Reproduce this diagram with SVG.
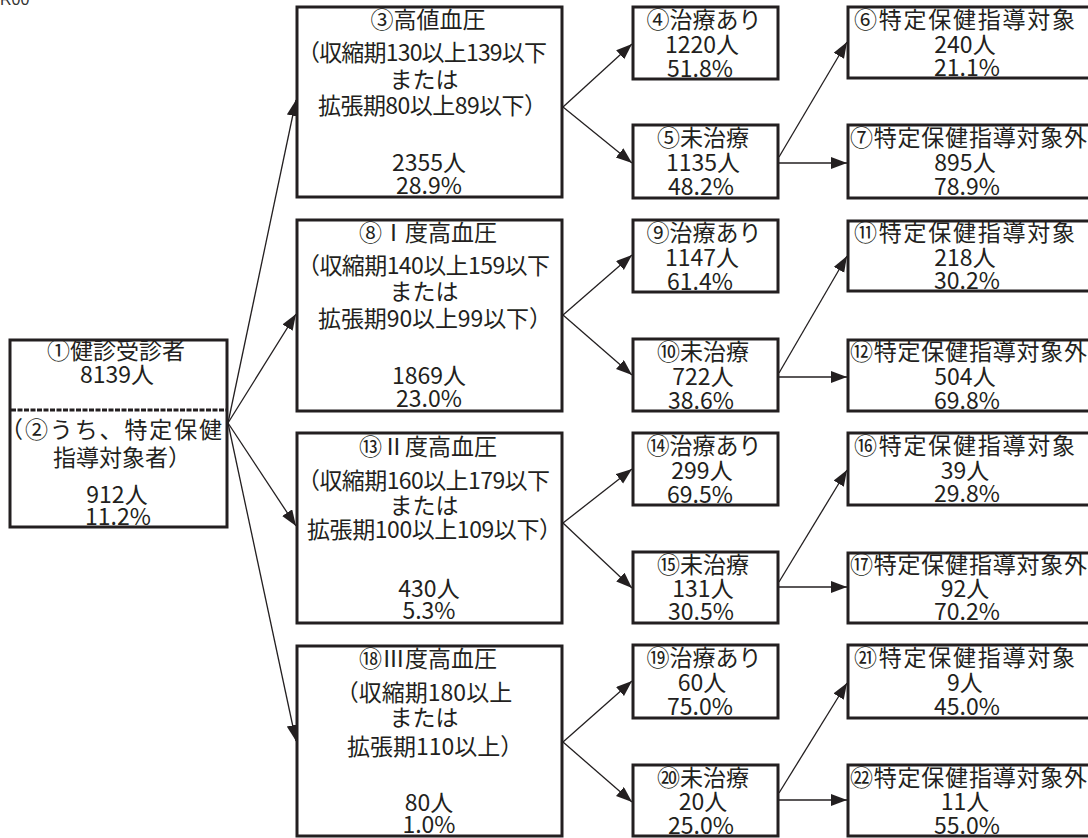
<svg xmlns="http://www.w3.org/2000/svg" width="1088" height="838" viewBox="0 0 1088 838">
<style>
.box{fill:#fff;stroke:#231f20;stroke-width:3}
.t{font-family:"Noto Sans CJK JP","Noto Sans CJK SC",sans-serif;font-size:23px;fill:#231f20;text-anchor:middle}
.s{text-anchor:start}
.c line{stroke:#231f20;stroke-width:1.3;marker-end:url(#arr)}
.dash{stroke:#231f20;stroke-width:3;stroke-dasharray:5 1.5}
</style>
<defs>
<marker id="arr" markerUnits="userSpaceOnUse" markerWidth="17" markerHeight="13" refX="16" refY="6" orient="auto">
<path d="M0,0 L16,6 L0,12 z" fill="#231f20"/>
</marker>
</defs>
<rect width="1088" height="838" fill="#fff"/>
<text x="0" y="5" style="font-family:'Liberation Sans',sans-serif;font-size:16px;fill:#333">R00</text>

<g class="c" id="connectors">
<line x1="228" y1="423" x2="296" y2="100"/>
<line x1="228" y1="423" x2="296" y2="314"/>
<line x1="228" y1="423" x2="296" y2="526"/>
<line x1="228" y1="423" x2="296" y2="741"/>

<line x1="563" y1="107" x2="632" y2="44"/>
<line x1="563" y1="107" x2="632" y2="163"/>
<line x1="563" y1="315" x2="632" y2="255"/>
<line x1="563" y1="315" x2="632" y2="375"/>
<line x1="563" y1="523" x2="632" y2="469"/>
<line x1="563" y1="523" x2="632" y2="588"/>
<line x1="563" y1="742" x2="632" y2="681"/>
<line x1="563" y1="742" x2="632" y2="802"/>

<line x1="779" y1="157" x2="847" y2="42"/>
<line x1="776" y1="163" x2="847" y2="163"/>
<line x1="779" y1="373" x2="847" y2="256"/>
<line x1="776" y1="377" x2="847" y2="377"/>
<line x1="779" y1="582" x2="847" y2="470"/>
<line x1="776" y1="587" x2="847" y2="587"/>
<line x1="779" y1="793" x2="847" y2="683"/>
<line x1="776" y1="800" x2="847" y2="800"/>
</g>

<g id="n1">
<rect class="box" x="10" y="340" width="217" height="187"/>
<line class="dash" x1="11" y1="410" x2="226" y2="410"/>
<text class="t" x="116" y="359">①健診受診者</text>
<text class="t" x="117" y="383">8139人</text>
<text class="t s" x="0" y="438" textLength="222" lengthAdjust="spacing">（②うち、特定保健</text>
<text class="t s" x="53" y="466">指導対象者）</text>
<text class="t" x="117" y="503">912人</text>
<text class="t" x="118" y="525">11.2%</text>
</g>

<!-- group 1 -->
<g id="n3">
<rect class="box" x="297" y="7" width="265" height="190"/>
<text class="t" x="428" y="28">③高値血圧</text>
<text class="t s" x="297" y="61" textLength="250" lengthAdjust="spacing">（収縮期130以上139以下</text>
<text class="t" x="424" y="88">または</text>
<text class="t s" x="318" y="114" textLength="229" lengthAdjust="spacing">拡張期80以上89以下）</text>
<text class="t" x="429" y="171">2355人</text>
<text class="t" x="429" y="194">28.9%</text>
</g>
<g id="n4">
<rect class="box" x="633" y="7" width="145" height="72"/>
<text class="t" x="704" y="28">④治療あり</text>
<text class="t" x="702" y="53">1220人</text>
<text class="t" x="700" y="77">51.8%</text>
</g>
<g id="n5">
<rect class="box" x="633" y="125" width="145" height="73"/>
<text class="t" x="703" y="146">⑤未治療</text>
<text class="t" x="703" y="171">1135人</text>
<text class="t" x="701" y="195">48.2%</text>
</g>
<g id="n6">
<rect class="box" x="848" y="7" width="252" height="71"/>
<text class="t s" x="854" y="28" textLength="221" lengthAdjust="spacing">⑥特定保健指導対象</text>
<text class="t" x="965" y="53">240人</text>
<text class="t" x="967" y="76">21.1%</text>
</g>
<g id="n7">
<rect class="box" x="848" y="125" width="252" height="73"/>
<text class="t s" x="850" y="146" textLength="237" lengthAdjust="spacing">⑦特定保健指導対象外</text>
<text class="t" x="965" y="171">895人</text>
<text class="t" x="967" y="195">78.9%</text>
</g>

<!-- group 2 -->
<g id="n8">
<rect class="box" x="297" y="220" width="265" height="191"/>
<text class="t" x="428" y="241">⑧Ⅰ度高血圧</text>
<text class="t s" x="297" y="274" textLength="253" lengthAdjust="spacing">（収縮期140以上159以下</text>
<text class="t" x="424" y="300">または</text>
<text class="t s" x="318" y="327" textLength="234" lengthAdjust="spacing">拡張期90以上99以下）</text>
<text class="t" x="429" y="384">1869人</text>
<text class="t" x="429" y="407">23.0%</text>
</g>
<g id="n9">
<rect class="box" x="633" y="220" width="145" height="72"/>
<text class="t" x="704" y="241">⑨治療あり</text>
<text class="t" x="702" y="266">1147人</text>
<text class="t" x="700" y="290">61.4%</text>
</g>
<g id="n10">
<rect class="box" x="633" y="339" width="145" height="72"/>
<text class="t" x="703" y="360">⑩未治療</text>
<text class="t" x="703" y="385">722人</text>
<text class="t" x="701" y="409">38.6%</text>
</g>
<g id="n11">
<rect class="box" x="848" y="221" width="252" height="70"/>
<text class="t s" x="854" y="241" textLength="221" lengthAdjust="spacing">⑪特定保健指導対象</text>
<text class="t" x="965" y="266">218人</text>
<text class="t" x="967" y="289">30.2%</text>
</g>
<g id="n12">
<rect class="box" x="848" y="340" width="252" height="71"/>
<text class="t s" x="850" y="360" textLength="237" lengthAdjust="spacing">⑫特定保健指導対象外</text>
<text class="t" x="965" y="385">504人</text>
<text class="t" x="967" y="409">69.8%</text>
</g>

<!-- group 3 -->
<g id="n13">
<rect class="box" x="297" y="433" width="265" height="190"/>
<text class="t" x="428" y="455">⑬Ⅱ度高血圧</text>
<text class="t s" x="297" y="489" textLength="253" lengthAdjust="spacing">（収縮期160以上179以下</text>
<text class="t" x="424" y="514">または</text>
<text class="t s" x="307" y="538" textLength="255" lengthAdjust="spacing">拡張期100以上109以下）</text>
<text class="t" x="429" y="597">430人</text>
<text class="t" x="429" y="619">5.3%</text>
</g>
<g id="n14">
<rect class="box" x="633" y="433" width="145" height="72"/>
<text class="t" x="704" y="454">⑭治療あり</text>
<text class="t" x="702" y="479">299人</text>
<text class="t" x="700" y="503">69.5%</text>
</g>
<g id="n15">
<rect class="box" x="633" y="552" width="145" height="71"/>
<text class="t" x="703" y="573">⑮未治療</text>
<text class="t" x="703" y="597">131人</text>
<text class="t" x="701" y="620">30.5%</text>
</g>
<g id="n16">
<rect class="box" x="848" y="433" width="252" height="72"/>
<text class="t s" x="854" y="454" textLength="221" lengthAdjust="spacing">⑯特定保健指導対象</text>
<text class="t" x="965" y="479">39人</text>
<text class="t" x="967" y="502">29.8%</text>
</g>
<g id="n17">
<rect class="box" x="848" y="553" width="252" height="70"/>
<text class="t s" x="850" y="573" textLength="237" lengthAdjust="spacing">⑰特定保健指導対象外</text>
<text class="t" x="965" y="597">92人</text>
<text class="t" x="967" y="620">70.2%</text>
</g>

<!-- group 4 -->
<g id="n18">
<rect class="box" x="297" y="646" width="265" height="190"/>
<text class="t" x="428" y="667">⑱Ⅲ度高血圧</text>
<text class="t" x="424" y="701">（収縮期180以上</text>
<text class="t" x="424" y="726">または</text>
<text class="t s" x="347" y="755">拡張期110以上）</text>
<text class="t" x="429" y="811">80人</text>
<text class="t" x="429" y="833">1.0%</text>
</g>
<g id="n19">
<rect class="box" x="633" y="645" width="145" height="73"/>
<text class="t" x="704" y="666">⑲治療あり</text>
<text class="t" x="702" y="691">60人</text>
<text class="t" x="700" y="715">75.0%</text>
</g>
<g id="n20">
<rect class="box" x="633" y="765" width="145" height="71"/>
<text class="t" x="703" y="786">⑳未治療</text>
<text class="t" x="703" y="810">20人</text>
<text class="t" x="701" y="834">25.0%</text>
</g>
<g id="n21">
<rect class="box" x="848" y="645" width="252" height="73"/>
<text class="t s" x="854" y="666" textLength="221" lengthAdjust="spacing">㉑特定保健指導対象</text>
<text class="t" x="965" y="691">9人</text>
<text class="t" x="967" y="715">45.0%</text>
</g>
<g id="n22">
<rect class="box" x="848" y="765" width="252" height="71"/>
<text class="t s" x="850" y="786" textLength="237" lengthAdjust="spacing">㉒特定保健指導対象外</text>
<text class="t" x="965" y="810">11人</text>
<text class="t" x="967" y="834">55.0%</text>
</g>
</svg>
